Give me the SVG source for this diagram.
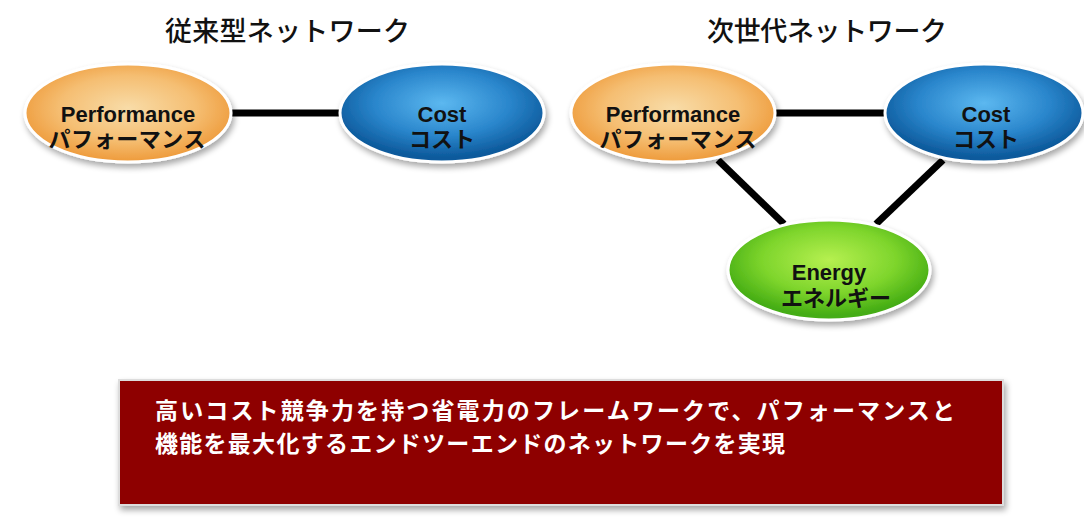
<svg xmlns="http://www.w3.org/2000/svg" width="1084" height="531" viewBox="0 0 1084 531">
<defs>
<radialGradient id="gOrange" cx="50%" cy="45%" r="55%">
<stop offset="0" stop-color="#f8dca8"/><stop offset="0.6" stop-color="#f5be72"/><stop offset="1" stop-color="#ee9a3a"/>
</radialGradient>
<radialGradient id="gBlue" cx="50%" cy="40%" r="55%">
<stop offset="0" stop-color="#5cb8f0"/><stop offset="0.6" stop-color="#2a86cc"/><stop offset="1" stop-color="#0d5a9c"/>
</radialGradient>
<radialGradient id="gGreen" cx="50%" cy="40%" r="55%">
<stop offset="0" stop-color="#b6f050"/><stop offset="0.6" stop-color="#7ed52c"/><stop offset="1" stop-color="#45ad14"/>
</radialGradient>
<filter id="sh" x="-10%" y="-10%" width="125%" height="135%">
<feGaussianBlur in="SourceAlpha" stdDeviation="3"/><feOffset dx="2" dy="4" result="b"/>
<feComponentTransfer><feFuncA type="linear" slope="0.35"/></feComponentTransfer>
<feMerge><feMergeNode/><feMergeNode in="SourceGraphic"/></feMerge>
</filter>
</defs>
<style>
.node{stroke:#ffffff;stroke-width:3;filter:url(#sh)}
.lbl{font-family:"Liberation Sans","Noto Sans CJK JP",sans-serif;font-weight:bold;font-size:22px;fill:#111;text-anchor:middle}
.title{font-family:"Noto Sans CJK JP",sans-serif;font-weight:500;font-size:27px;fill:#111}
.msg{font-family:"Noto Sans CJK JP",sans-serif;font-weight:bold;font-size:23px;fill:#ffffff}
.conn{stroke:#000;stroke-width:7}
</style>
<rect width="1084" height="531" fill="#ffffff"/>
<text class="title" x="165" y="41" textLength="245">従来型ネットワーク</text>
<text class="title" x="707" y="41" textLength="240">次世代ネットワーク</text>
<g id="connectors">
<line class="conn" x1="228" y1="113" x2="342" y2="113"/>
<line class="conn" x1="773" y1="113" x2="887" y2="113"/>
<line class="conn" x1="718" y1="160" x2="784" y2="224"/>
<line class="conn" x1="943" y1="160" x2="876" y2="224"/>
</g>
<g id="perf1">
<ellipse class="node" cx="128" cy="113" rx="103" ry="49" fill="url(#gOrange)"/>
<text class="lbl" x="128" y="122">Performance</text>
<text class="lbl" x="127" y="147" textLength="157">パフォーマンス</text>
</g>
<g id="cost1">
<ellipse class="node" cx="442" cy="113" rx="102" ry="49" fill="url(#gBlue)"/>
<text class="lbl" x="442" y="122">Cost</text>
<text class="lbl" x="442" y="147">コスト</text>
</g>
<g id="perf2">
<ellipse class="node" cx="673" cy="113" rx="102" ry="49" fill="url(#gOrange)"/>
<text class="lbl" x="673" y="122">Performance</text>
<text class="lbl" x="678" y="147" textLength="157">パフォーマンス</text>
</g>
<g id="cost2">
<ellipse class="node" cx="984" cy="113" rx="99" ry="49" fill="url(#gBlue)"/>
<text class="lbl" x="986" y="122">Cost</text>
<text class="lbl" x="986" y="147">コスト</text>
</g>
<g id="energy">
<ellipse class="node" cx="829" cy="270" rx="101" ry="50" fill="url(#gGreen)"/>
<text class="lbl" x="829" y="280">Energy</text>
<text class="lbl" x="836" y="306">エネルギー</text>
</g>
<g id="message">
<rect x="119" y="380" width="884" height="125" fill="#8e0000" stroke="#dddddd" stroke-width="2" filter="url(#sh)"/>
<text class="msg" x="155" y="419" textLength="800">高いコスト競争力を持つ省電力のフレームワークで、パフォーマンスと</text>
<text class="msg" x="155" y="452" textLength="630">機能を最大化するエンドツーエンドのネットワークを実現</text>
</g>
</svg>
